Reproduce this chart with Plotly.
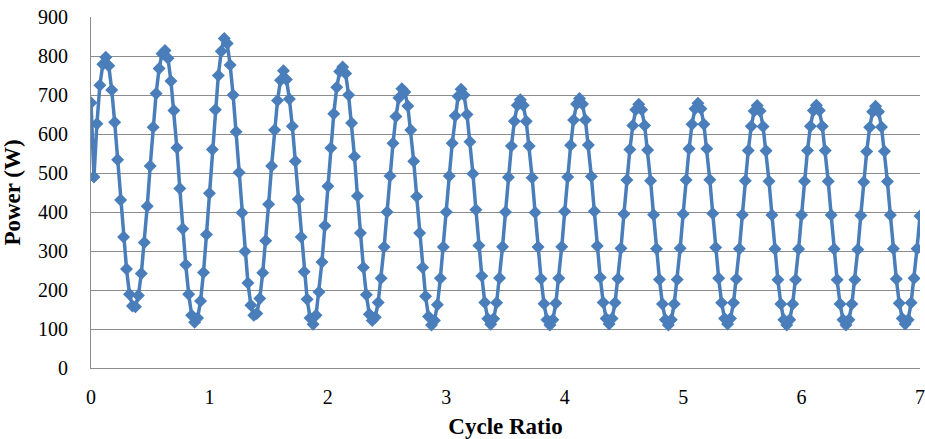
import plotly.graph_objects as go

# Sampling step of the cycle-ratio axis (20 samples per half unit)
STEP = 0.025

# Measured power (W), one sample per step starting at cycle ratio 0
power_w = [
    680, 490, 626, 725, 779,
    797, 775, 713, 630, 534, 431, 336, 254, 189, 159, 157,
    186, 242, 322, 415, 518, 617, 704, 768, 806,
    814, 794, 736, 660, 565, 460, 357, 265, 189, 135, 117,
    128, 172, 245, 342, 448, 560, 662, 750, 812,
    845, 832, 777, 700, 606, 501, 398, 299, 218, 161, 135,
    140, 178, 244, 326, 420, 518, 610, 686, 738,
    762, 740, 690, 620, 530, 433, 336, 247, 176, 128, 112,
    135, 195, 272, 365, 466, 564, 652, 720, 760,
    772, 755, 700, 628, 542, 441, 346, 258, 188, 138, 122,
    130, 168, 230, 310, 400, 492, 576, 645, 693,
    716, 708, 672, 610, 530, 440, 346, 258, 184, 132, 110,
    122, 162, 230, 310, 400, 492, 576, 647, 697,
    715, 700, 650, 580, 498, 406, 314, 236, 168, 126, 112,
    126, 167, 231, 311, 400, 489, 569, 633, 674,
    688, 674, 633, 569, 488, 399, 310, 229, 165, 124, 110,
    124, 166, 230, 311, 401, 490, 571, 636, 677,
    691, 677, 636, 572, 491, 402, 313, 232, 168, 127, 113,
    127, 167, 229, 307, 395, 482, 560, 622, 662,
    676, 662, 622, 559, 480, 393, 306, 227, 164, 124, 110,
    124, 164, 227, 307, 395, 482, 562, 625, 665,
    679, 665, 625, 562, 483, 396, 309, 230, 167, 127, 113,
    127, 167, 228, 306, 393, 480, 558, 620, 659,
    673, 659, 619, 557, 479, 392, 305, 226, 164, 124, 110,
    124, 164, 226, 305, 392, 479, 558, 620, 660,
    674, 660, 620, 558, 479, 392, 305, 226, 164, 124, 110,
    124, 164, 226, 304, 391, 477, 555, 617, 657,
    671, 657, 618, 556, 478, 392, 306, 228, 166, 127, 113,
    124, 167, 230, 306, 390,
]
cycle_ratio = [round(i * STEP, 3) for i in range(len(power_w))]

x_ticks = [0, 1, 2, 3, 4, 5, 6, 7]
y_ticks = [0, 100, 200, 300, 400, 500, 600, 700, 800, 900]

BLUE = "#4A7EBB"
GRID = "#8C8C8C"
FONT = "Liberation Serif"

fig = go.Figure(
    go.Scatter(
        x=cycle_ratio,
        y=power_w,
        mode="lines+markers",
        line=dict(color=BLUE, width=3.5),
        marker=dict(symbol="diamond", size=10, color=BLUE),
        showlegend=False,
    )
)

fig.update_layout(
    width=925,
    height=439,
    margin=dict(l=91, r=5, t=17, b=71),
    paper_bgcolor="white",
    plot_bgcolor="white",
    font=dict(family=FONT, size=20, color="black"),
)

fig.update_xaxes(
    range=[0, 7],
    tickvals=x_ticks,
    automargin=False,
    showgrid=False,
    zeroline=False,
    showline=True,
    linecolor=GRID,
    linewidth=1,
    ticks="",
    ticklabelstandoff=11,
    tickfont=dict(family=FONT, size=20),
    title=dict(text="<b>Cycle Ratio</b>", font=dict(family=FONT, size=23), standoff=10),
)

fig.update_yaxes(
    range=[0, 900],
    tickvals=y_ticks,
    automargin=False,
    showgrid=True,
    gridcolor=GRID,
    gridwidth=1,
    zeroline=False,
    showline=True,
    linecolor=GRID,
    linewidth=1,
    ticks="",
    ticklabelstandoff=18,
    tickfont=dict(family=FONT, size=20),
    title=dict(text="<b>Power (W)</b>", font=dict(family=FONT, size=23), standoff=10),
)

fig.write_html("out.html")
